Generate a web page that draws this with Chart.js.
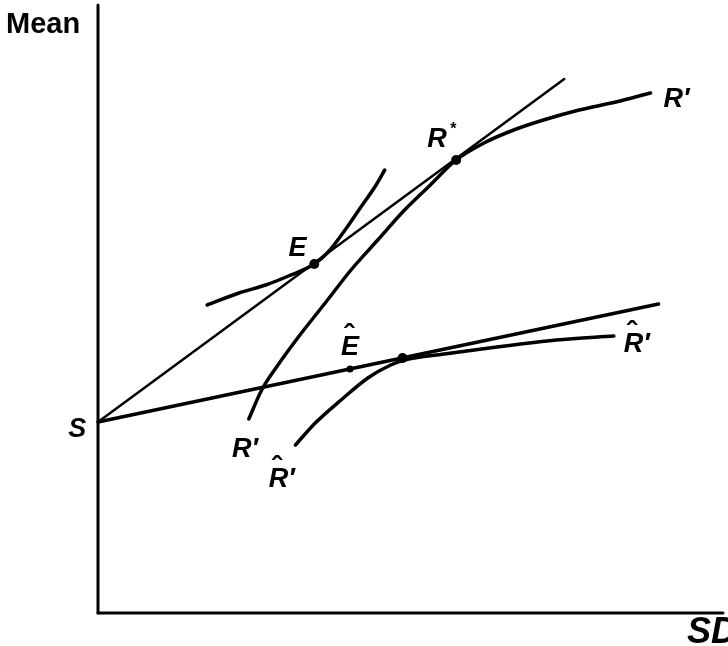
<!DOCTYPE html>
<html>
<head>
<meta charset="utf-8">
<script src="https://cdn.jsdelivr.net/npm/chart.js@4.4.1/dist/chart.umd.min.js"></script>
<style>
  html, body { margin: 0; padding: 0; background: #fff; }
  canvas { display: block; }
</style>
</head>
<body>
<canvas id="chart" width="728" height="646"></canvas>
<script>
// Axis ranges (SD across, Mean up), units
const sdRange = [0, 630];
const meanRange = [0, 608];

// Two rays from the riskless point S
const rayUpper = [[0, 191], [470, 534]];
const rayLower = [[0, 191], [565, 309]];

// Frontier touching at E
const frontierE = [[110, 308], [142, 320], [169, 328], [192, 337], [218, 349],
  [232, 361], [249, 383], [265, 406], [279, 426], [289, 443]];

// Frontier R' R* R'
const frontierR = [[152, 194], [165, 223], [180, 246], [202, 276], [229, 310],
  [255, 343], [282, 373], [309, 403], [335, 428], [361, 453], [389, 470],
  [419, 483], [449, 493], [485, 503], [522, 511], [557, 520]];

// Frontier R-hat'
const frontierRhat = [[199, 168], [219, 190], [245, 213], [272, 235], [295, 248],
  [309, 253], [349, 259], [402, 266], [462, 273], [520, 277]];

// Marked points: E, R*, tangency on the lower ray; E-hat is smaller
const bigPoints = [[218, 349], [361, 453], [307, 255]];
const smallPoints = [[254, 244]];

const toXY = arr => arr.map(p => ({ x: p[0], y: p[1] }));

function lineSet(pts, width) {
  return {
    data: toXY(pts),
    showLine: true,
    borderColor: "#000",
    borderWidth: width,
    borderCapStyle: "round",
    borderJoinStyle: "round",
    pointRadius: 0,
    cubicInterpolationMode: "monotone",
    clip: false
  };
}

// Text labels placed at data coords (left edge, baseline)
const labels = [
  { t: "S", x: -30, y: 176 },
  { t: "E", x: 192, y: 357 },
  { t: "R", x: 332, y: 466, star: true },
  { t: "R\u2032", x: 570, y: 506 },
  { t: "E", x: 245, y: 258, hat: true },
  { t: "R\u2032", x: 135, y: 156 },
  { t: "R\u2032", x: 172, y: 126, hat: true },
  { t: "R\u2032", x: 530, y: 261, hat: true }
];

const labelPlugin = {
  id: "labels",
  afterDatasetsDraw(chart) {
    const ctx = chart.ctx;
    const xs = chart.scales.x, ys = chart.scales.y;
    ctx.save();
    ctx.fillStyle = "#000";
    ctx.textBaseline = "alphabetic";
    ctx.font = "bold 29px 'Liberation Sans', Arial, sans-serif";
    ctx.fillText("Mean", 6, 33);
    ctx.font = "italic bold 36px 'Liberation Sans', Arial, sans-serif";
    ctx.fillText("SD", 687, 643);
    labels.forEach(l => {
      const px = xs.getPixelForValue(l.x);
      const py = ys.getPixelForValue(l.y);
      ctx.font = "italic bold 27px 'Liberation Sans', Arial, sans-serif";
      ctx.fillText(l.t, px, py);
      if (l.hat) {
        ctx.font = "bold 30px 'Liberation Sans', Arial, sans-serif";
        ctx.fillText("\u02C6", px + 3, py - 10);
      }
      if (l.star) {
        ctx.font = "bold 16px 'Liberation Sans', Arial, sans-serif";
        ctx.fillText("*", px + 23, py - 13);
      }
    });
    ctx.restore();
  }
};

new Chart(document.getElementById("chart"), {
  type: "scatter",
  data: {
    datasets: [
      lineSet([[0, 0], [0, meanRange[1]]], 3),
      lineSet([[0, 0], [sdRange[1], 0]], 3),
      lineSet(rayUpper, 2.5),
      lineSet(rayLower, 3.5),
      lineSet(frontierE, 3.5),
      lineSet(frontierR, 3.5),
      lineSet(frontierRhat, 3.5),
      {
        data: toXY(bigPoints),
        pointRadius: 5,
        pointBackgroundColor: "#000",
        pointBorderWidth: 0,
        clip: false
      },
      {
        data: toXY(smallPoints),
        pointRadius: 3.5,
        pointBackgroundColor: "#000",
        pointBorderWidth: 0,
        clip: false
      }
    ]
  },
  options: {
    responsive: false,
    devicePixelRatio: 1,
    animation: false,
    layout: { padding: { left: 98, right: 0, top: 5, bottom: 33 } },
    plugins: { legend: { display: false }, tooltip: { enabled: false } },
    scales: {
      x: { type: "linear", min: sdRange[0], max: sdRange[1], display: false },
      y: { type: "linear", min: meanRange[0], max: meanRange[1], display: false }
    }
  },
  plugins: [labelPlugin]
});
</script>
</body>
</html>
